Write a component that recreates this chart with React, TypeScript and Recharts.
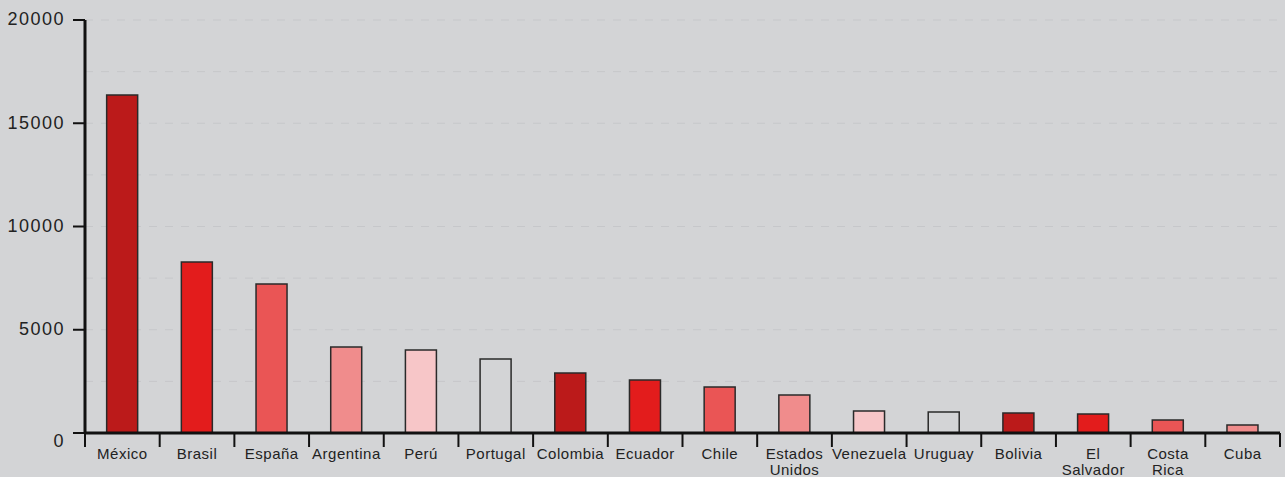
import React from 'react';
import { BarChart, Bar, XAxis, YAxis, CartesianGrid, Cell } from 'recharts';

const countries = [
  'México', 'Brasil', 'España', 'Argentina', 'Perú', 'Portugal', 'Colombia', 'Ecuador',
  'Chile', 'Estados Unidos', 'Venezuela', 'Uruguay', 'Bolivia', 'El Salvador', 'Costa Rica', 'Cuba',
];
const values = [16370, 8280, 7210, 4170, 4020, 3580, 2900, 2570, 2230, 1840, 1070, 1020, 970, 920, 630, 390];
const palette = ['#bb1a1a', '#e31c1c', '#ea5555', '#f08c8c', '#f7c6c8', '#d3d4d6'];
const yTicks = [0, 5000, 10000, 15000, 20000];
const gridValues = [2500, 5000, 7500, 10000, 12500, 15000, 17500, 20000];

const data = countries.map((name, i) => ({ name, value: values[i] }));

const FONT = '"Liberation Sans", Arial, sans-serif';

const CountryTick = (props: any) => {
  const { x, y, payload, index } = props;
  const half = payload?.offset ?? 37;
  const words = payload.value.includes(' ') ? payload.value.split(' ') : [payload.value];
  return (
    <g>
      <line x1={x - half} x2={x - half} y1={y - 14} y2={y} stroke="#111" strokeWidth={2} />
      {index === countries.length - 1 && (
        <line x1={x + half} x2={x + half} y1={y - 14} y2={y} stroke="#111" strokeWidth={2} />
      )}
      <text x={x} y={y} textAnchor="middle" fontSize={15} letterSpacing={0.5} fontFamily={FONT} fill="#222">
        {words.map((w: string, i: number) => (
          <tspan key={i} x={x} dy={i === 0 ? 12 : 16}>{w}</tspan>
        ))}
      </text>
    </g>
  );
};

const ValueTick = (props: any) => {
  const { x, y, payload } = props;
  // the zero label sits a bit under the axis in the original
  const shift = payload.value === 0 ? 8 : -1;
  return (
    <text x={x} y={y + shift} dy="0.355em" textAnchor="end" fontSize={18} letterSpacing={1.5} fontFamily={FONT} fill="#222">
      {payload.value}
    </text>
  );
};

export default function App() {
  return (
    <div style={{ position: 'absolute', left: 0, top: 0, width: 1285, height: 477, background: '#d3d4d6' }}>
      <BarChart
        width={1285}
        height={477}
        data={data}
        margin={{ top: 20, right: 5, left: 0, bottom: 0 }}
        barCategoryGap="29%"
      >
        <CartesianGrid
          vertical={false}
          horizontalValues={gridValues}
          stroke="#c6c7ca"
          strokeDasharray="8 8"
        />
        <XAxis
          dataKey="name"
          interval={0}
          height={44}
          tickSize={14}
          tickMargin={0}
          tickLine={false}
          axisLine={{ stroke: '#111', strokeWidth: 3 }}
          tick={<CountryTick />}
        />
        <YAxis
          width={85}
          domain={[0, 20000]}
          ticks={yTicks}
          tickSize={12}
          tickMargin={8}
          axisLine={{ stroke: '#111', strokeWidth: 3 }}
          tickLine={{ stroke: '#111', strokeWidth: 2 }}
          tick={<ValueTick />}
        />
        <Bar dataKey="value" stroke="#2a2a2a" strokeWidth={1.5} isAnimationActive={false}>
          {data.map((d, i) => (
            <Cell key={d.name} fill={palette[i % palette.length]} />
          ))}
        </Bar>
      </BarChart>
    </div>
  );
}
